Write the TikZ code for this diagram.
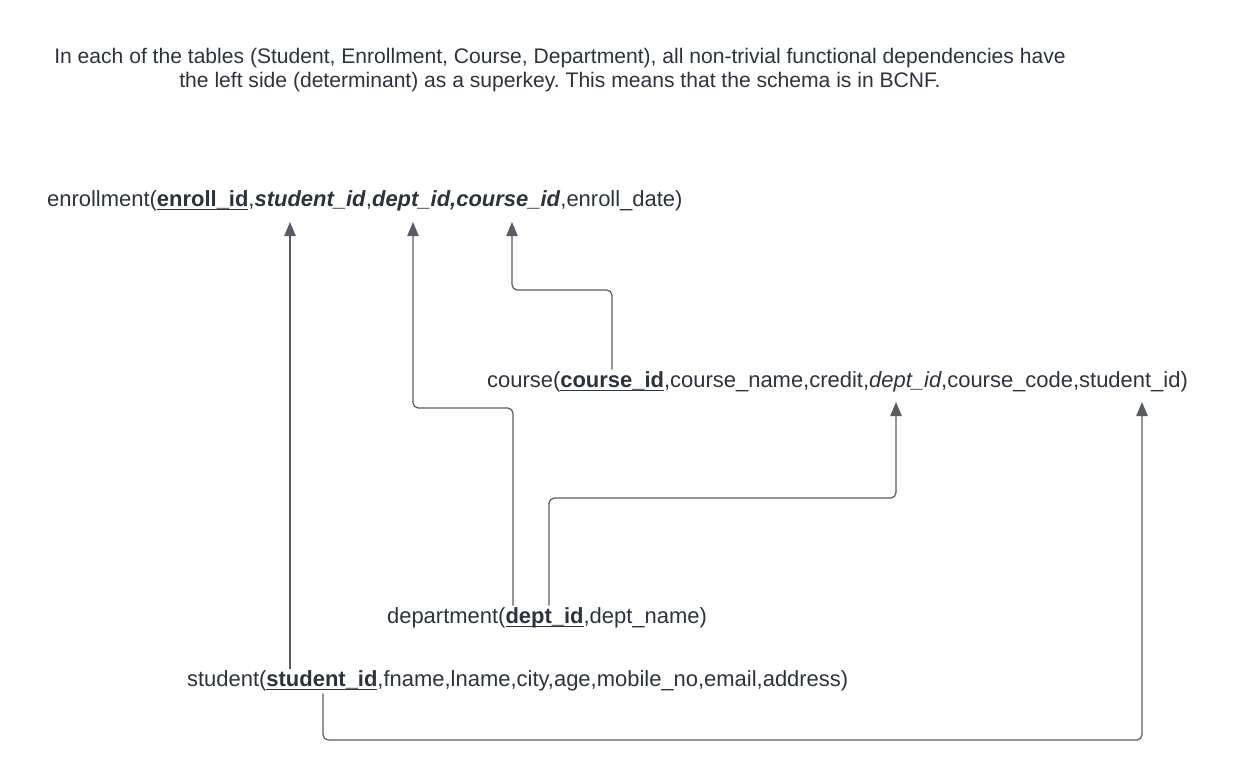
\documentclass[tikz,border=0pt]{standalone}
\usepackage{fontspec}
\setmainfont{Liberation Sans}
\usepackage{xcolor}
\definecolor{erdtext}{RGB}{45,51,61}
\definecolor{erdline}{RGB}{88,93,100}
\usetikzlibrary{arrows.meta,positioning,calc}
\frenchspacing
\newcommand{\erdpk}[1]{\underline{\smash{\textbf{#1}}}}
\newcommand{\erdfk}[1]{\textbf{\textit{#1}}}

\begin{document}
\begin{tikzpicture}[x=0.02cm,y=-0.02cm,
  erdrel/.style={anchor=west,inner sep=1pt,font=\fontsize{12.5}{15}\selectfont,text=erdtext},
  erdfk/.style={-{Triangle[length=8pt,width=6.5pt]},erdline,line width=0.7pt,rounded corners=3pt},
  erdnote/.style={align=center,font=\fontsize{12}{14}\selectfont,text=erdtext}
]
  \useasboundingbox (0,0) rectangle (1260,780);
  \node[erdnote] (note) at (560,70) {In each of the tables (Student, Enrollment, Course, Department), all non-trivial functional dependencies have\\
    the left side (determinant) as a superkey. This means that the schema is in BCNF.};
  % Relations
  \node[erdrel] (enroll) at (45,201) {enrollment(\erdpk{enroll\_id},\erdfk{student\_id},\erdfk{dept\_id,course\_id},enroll\_date)};
  \node[erdrel] (course) at (485,382) {course(\erdpk{course\_id},course\_name,credit,\textit{dept\_id},course\_code,student\_id)};
  \node[erdrel] (dept) at (385,618) {department(\erdpk{dept\_id},dept\_name)};
  \node[erdrel] (student) at (185,681) {student(\erdpk{student\_id},fname,lname,city,age,mobile\_no,email,address)};
  % Arrow targets
  \coordinate (e-sid) at (290,222);
  \coordinate (e-did) at (413,222);
  \coordinate (e-cid) at (512,222);
  \coordinate (c-did) at (896,402);
  \coordinate (c-sid) at (1142,402);
  % Foreign keys
  \draw[erdfk] (student.north -| e-sid) -- (e-sid);
  \draw[erdfk] (dept.north -| 513,0) |- (413,408) -- (e-did);
  \draw[erdfk] (dept.north -| 549,0) |- (896,498) -- (c-did);
  \draw[erdfk] (course.north -| 612,0) |- (512,290) -- (e-cid);
  \draw[erdfk] (student.south -| 323,0) |- (1142,740) -- (c-sid);
\end{tikzpicture}
\end{document}
